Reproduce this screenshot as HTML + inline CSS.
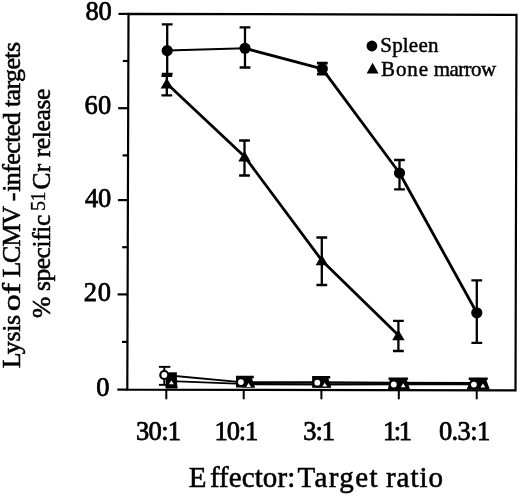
<!DOCTYPE html>
<html><head><meta charset="utf-8"><title>Figure</title>
<style>
html,body{margin:0;padding:0;background:#fff}
svg{display:block}
text{font-family:"Liberation Serif",serif;fill:#000;stroke:#000;stroke-width:0.55px}
text.n{stroke-width:0.75px}
text.l{stroke-width:0.45px}
text.s{stroke-width:0.3px}
text.t{stroke-width:0.55px}
</style></head><body>
<svg width="520" height="497" viewBox="0 0 520 497">
<rect width="520" height="497" fill="#fff"/>

<g stroke="#000" fill="none" stroke-linecap="butt">
<polygon points="128.5,13.9 516.5,14.8 515.5,390.4 127.3,389.6" stroke-width="2.2"/>
<line x1="118.5" y1="13.9" x2="128.5" y2="13.9" stroke-width="2.2"/>
<line x1="122.8" y1="61.0" x2="128.3" y2="61.0" stroke-width="2.2"/>
<line x1="118.2" y1="108.2" x2="128.2" y2="108.2" stroke-width="2.2"/>
<line x1="122.6" y1="155.4" x2="128.1" y2="155.4" stroke-width="2.2"/>
<line x1="117.9" y1="200.1" x2="127.9" y2="200.1" stroke-width="2.2"/>
<line x1="122.2" y1="247.2" x2="127.8" y2="247.2" stroke-width="2.2"/>
<line x1="117.6" y1="294.4" x2="127.6" y2="294.4" stroke-width="2.2"/>
<line x1="122.0" y1="341.9" x2="127.5" y2="341.9" stroke-width="2.2"/>
<line x1="117.3" y1="389.6" x2="127.3" y2="389.6" stroke-width="2.2"/>
<line x1="166.3" y1="389.7" x2="166.3" y2="399.3" stroke-width="2"/>
<line x1="243.7" y1="389.8" x2="243.7" y2="399.3" stroke-width="2"/>
<line x1="321.4" y1="390.0" x2="321.4" y2="399.3" stroke-width="2"/>
<line x1="398.8" y1="390.2" x2="398.8" y2="399.3" stroke-width="2"/>
<line x1="476.7" y1="390.3" x2="476.7" y2="399.3" stroke-width="2"/>
</g>
<polyline points="167.2,50.6 245,48.3" fill="none" stroke="#000" stroke-width="2" stroke-linejoin="round"/>
<polyline points="245,48.3 322.3,68.8 399.5,173 476.8,312.8" fill="none" stroke="#000" stroke-width="2.8" stroke-linejoin="round"/>
<polyline points="166.8,83.5 244.5,156.5 321.8,260.4 398.4,335.3" fill="none" stroke="#000" stroke-width="2.8" stroke-linejoin="round"/>
<path d="M161.79999999999998,24.3H172.6M161.79999999999998,73.8H172.6M167.2,24.3V73.8" stroke="#000" stroke-width="2.3" fill="none"/>
<path d="M239.6,27.3H250.4M239.6,67.5H250.4M245,27.3V67.5" stroke="#000" stroke-width="2.3" fill="none"/>
<path d="M316.90000000000003,63.2H327.7M316.90000000000003,74.2H327.7M322.3,63.2V74.2" stroke="#000" stroke-width="2.7" fill="none"/>
<path d="M394.1,160H404.9M394.1,189.3H404.9M399.5,160V189.3" stroke="#000" stroke-width="2.3" fill="none"/>
<path d="M471.40000000000003,280.3H482.2M471.40000000000003,342.9H482.2M476.8,280.3V342.9" stroke="#000" stroke-width="2.3" fill="none"/>
<path d="M161.4,75.8H172.20000000000002M161.4,95.3H172.20000000000002M166.8,75.8V95.3" stroke="#000" stroke-width="2.3" fill="none"/>
<path d="M239.1,140.5H249.9M239.1,175.5H249.9M244.5,140.5V175.5" stroke="#000" stroke-width="2.3" fill="none"/>
<path d="M316.40000000000003,237.5H327.2M316.40000000000003,285H327.2M321.8,237.5V285" stroke="#000" stroke-width="2.3" fill="none"/>
<path d="M393.0,320.8H403.79999999999995M393.0,351H403.79999999999995M398.4,320.8V351" stroke="#000" stroke-width="2.3" fill="none"/>
<circle cx="167.2" cy="50.6" r="5.6"/>
<circle cx="245" cy="48.3" r="5.6"/>
<circle cx="322.3" cy="68.8" r="5.6"/>
<circle cx="399.5" cy="173" r="5.6"/>
<circle cx="476.8" cy="312.8" r="5.6"/>
<polygon points="166.8,77.9 173.0,88.4 160.60000000000002,88.4"/>
<polygon points="244.5,150.9 250.7,161.4 238.3,161.4"/>
<polygon points="321.8,254.79999999999998 328.0,265.29999999999995 315.6,265.29999999999995"/>
<polygon points="398.4,329.7 404.59999999999997,340.2 392.2,340.2"/>
<polyline points="164.3,375 240.9,382.2" fill="none" stroke="#000" stroke-width="1.8" stroke-linejoin="round"/>
<polyline points="171.4,381.2 248.6,384.1" fill="none" stroke="#000" stroke-width="1.8" stroke-linejoin="round"/>
<polyline points="240.9,382.2 317.3,382.2 393.8,382.8 473.9,383.1" fill="none" stroke="#000" stroke-width="2.1" stroke-linejoin="round"/>
<polyline points="248.6,384.1 324.8,384.4 403.2,384.1 482.9,384.1" fill="none" stroke="#000" stroke-width="2.1" stroke-linejoin="round"/>
<rect x="158.9" y="365.9" width="11.5" height="1.9"/>
<rect x="163.3" y="366.0" width="2.0" height="19.0"/>
<rect x="158.9" y="383.9" width="7.6" height="1.9"/>
<rect x="168.6" y="372.3" width="8.3" height="2.0"/>
<polygon points="167,374 176.7,374 177.4,388.6 165.8,388.6 165.8,380"/>
<polygon points="236,375.8 253.8,375.8 253.8,378.2 252,378.2 254.9,387.6 236,387.6"/>
<polygon points="312.1,376.1 330.2,376.1 330.2,378.5 328.4,378.5 331.3,387.7 312.1,387.7"/>
<polygon points="388.5,377.6 408.1,377.6 408.1,379.8 406.8,379.8 409.8,389 387.8,389 389.5,383 389.5,379.8 388.5,379.8"/>
<polygon points="468.7,377.6 487.7,377.6 487.7,380 486.4,380 489.8,389.4 466.6,389.4 470.5,380 468.7,380"/>
<circle cx="164.3" cy="375" r="5.1"/>
<circle cx="240.9" cy="382.1" r="5.1"/>
<circle cx="317.3" cy="382.7" r="5.1"/>
<circle cx="393.8" cy="384.5" r="5.1"/>
<circle cx="473.9" cy="384.6" r="5.1"/>
<polygon points="171.4,375.3 177.8,387.6 165.0,387.6"/>
<polygon points="248.6,377.6 255.0,387.5 242.2,387.5"/>
<polygon points="324.8,377.8 331.2,387.6 318.40000000000003,387.6"/>
<polygon points="403.2,378.8 409.59999999999997,388.8 396.8,388.8"/>
<polygon points="482.9,379 489.29999999999995,389 476.5,389"/>
<circle cx="164.3" cy="375" r="2.9" fill="#fff"/>
<circle cx="240.9" cy="382.1" r="2.9" fill="#fff"/>
<circle cx="317.3" cy="382.7" r="2.9" fill="#fff"/>
<circle cx="393.8" cy="384.5" r="2.9" fill="#fff"/>
<circle cx="473.9" cy="384.6" r="2.9" fill="#fff"/>
<polygon points="171.4,380.4 173.8,384.3 169.0,384.3" fill="#fff"/>
<polygon points="248.6,383.0 251.0,387.0 246.2,387.0" fill="#fff"/>
<polygon points="324.8,382.7 327.2,386.5 322.40000000000003,386.5" fill="#fff"/>
<polygon points="403.2,383.3 405.59999999999997,387.3 400.8,387.3" fill="#fff"/>
<polygon points="482.9,383.6 485.29999999999995,387.6 480.5,387.6" fill="#fff"/>
<text class="n" x="85.55" y="20.3" font-size="26.5" textLength="26.25" lengthAdjust="spacing">80</text>
<text class="n" x="84.55" y="114.4" font-size="26.5" textLength="26.75" lengthAdjust="spacing">60</text>
<text class="n" x="85.05" y="207.4" font-size="26.5" textLength="26.25" lengthAdjust="spacing">40</text>
<text class="n" x="83.65" y="300.8" font-size="26.5" textLength="27.25" lengthAdjust="spacing">20</text>
<text class="n" x="96.25" y="396.2" font-size="26.5" textLength="13.25" lengthAdjust="spacing">0</text>
<text class="n" x="136.0" y="439.7" font-size="26.5" textLength="45.12" lengthAdjust="spacing">30:1</text>
<text class="n" x="214.5" y="439.7" font-size="26.5" textLength="43.87" lengthAdjust="spacing">10:1</text>
<text class="n" x="303.3" y="439.7" font-size="26.5" textLength="31.62" lengthAdjust="spacing">3:1</text>
<text class="n" x="383.0" y="439.7" font-size="26.5" textLength="29.12" lengthAdjust="spacing">1:1</text>
<text class="n" x="438.95" y="439.7" font-size="26.5" textLength="51.25" lengthAdjust="spacing">0.3:1</text>
<text class="t" x="188.8 209.9 219.1 228.84 241.78 254.72 262.85 277.41 287.15" y="487.2" font-size="29">Effector:</text>
<text class="t" x="297.45" y="487.2" font-size="29" textLength="80.12" lengthAdjust="spacing">Target</text>
<text class="t" x="385.95" y="487.2" font-size="29" textLength="57.16" lengthAdjust="spacing">ratio</text>
<text class="t" transform="translate(20.3,0) rotate(-90)" x="-368.3" y="0" font-size="26" textLength="53.42" lengthAdjust="spacing">Lysis</text>
<text class="t" transform="translate(20.3,0) rotate(-90)" x="-311.2" y="0" font-size="26" textLength="28.42" lengthAdjust="spacingAndGlyphs">of</text>
<text class="t" transform="translate(20.3,0) rotate(-90)" x="-277.6 -262.88 -246.71 -224.75 -201.25 -191.75 -185.14 -172.76 -164.72 -153.79 -142.87 -136.26 -125.34 -112.96 -107.09 -100.48 -89.55 -81.97 -69.6 -58.68 -52.07" y="0" font-size="26">LCMV-infected targets</text>
<text class="t" transform="translate(50.4,0) rotate(-90)" x="-317.9" y="0" font-size="25.5" textLength="103.16" lengthAdjust="spacing">% specific</text>
<text class="s" transform="translate(44.6,0) rotate(-90)" x="-211.0" y="0" font-size="20" textLength="19.5" lengthAdjust="spacing">51</text>
<text class="t" transform="translate(50.4,0) rotate(-90)" x="-189.55" y="0" font-size="25.5" textLength="25.75" lengthAdjust="spacing">Cr</text>
<text class="t" transform="translate(50.4,0) rotate(-90)" x="-157.25" y="0" font-size="25.5" textLength="68.53" lengthAdjust="spacing">release</text>
<circle cx="371.9" cy="46" r="5.4"/>
<text class="l" x="380.25" y="51.9" font-size="21" textLength="58.16" lengthAdjust="spacing">Spleen</text>
<polygon points="372.6,62.8 378.6,73.5 366.6,73.5"/>
<text class="l" x="381.0" y="75.7" font-size="21" textLength="47.08" lengthAdjust="spacing">Bone</text>
<text class="l" x="433.75" y="75.7" font-size="21" textLength="62.31" lengthAdjust="spacing">marrow</text>
</svg></body></html>
